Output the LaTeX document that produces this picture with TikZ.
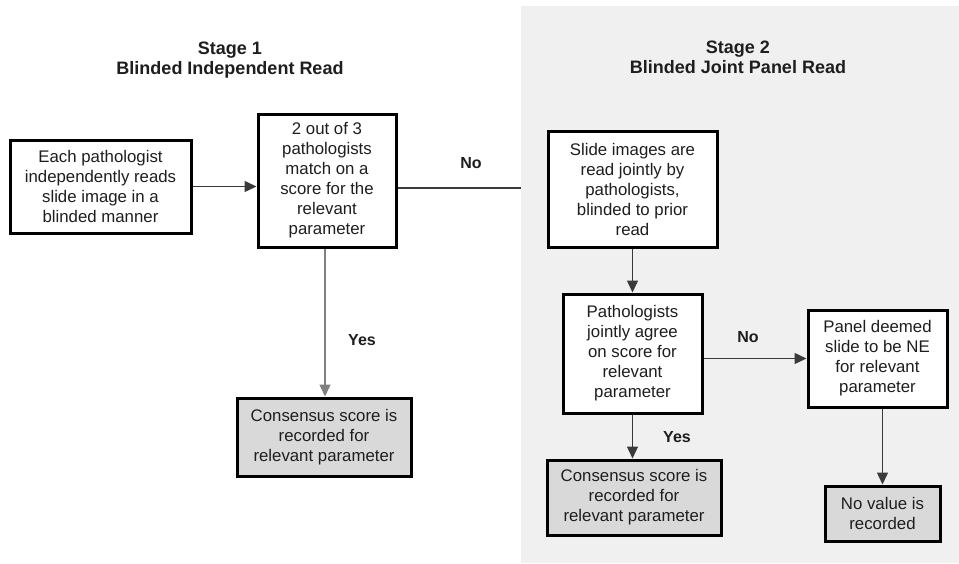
\documentclass[tikz,border=0pt]{standalone}
\usepackage{fontspec}
\setmainfont{Liberation Sans}
\usetikzlibrary{arrows.meta,calc}
\definecolor{panelgray}{HTML}{F0F0F0}
\definecolor{boxgray}{HTML}{D9D9D9}
\definecolor{txt}{HTML}{1E1E1E}
\definecolor{linec}{HTML}{3A3A3A}
\begin{document}
\begin{tikzpicture}[x=1pt,y=-1pt,
  flowbox/.style={draw=black, line width=3pt, fill=white, align=center, inner sep=2pt,
     text=txt, font=\fontsize{16.8}{20}\selectfont},
  endbox/.style={flowbox, fill=boxgray},
  title/.style={align=center, text=txt, font=\fontsize{18}{20}\selectfont\bfseries},
  lab/.style={text=txt, font=\fontsize{16}{18}\selectfont\bfseries},
  conn/.style={draw=linec, line width=1.4pt},
  arr/.style={conn, -{Triangle[length=12pt,width=11pt]}}
]
\useasboundingbox (0,0) rectangle (959,563);
\fill[white] (0,0) rectangle (959,563);
\fill[panelgray] (521,6) rectangle (959,563);

\node[title] (t1) at (230,60) {Stage 1\\Blinded Independent Read};
\node[title] (t2) at (738,57) {Stage 2\\Blinded Joint Panel Read};

\node[flowbox, minimum width=181pt, minimum height=93pt] (A) at (100.5,186.5)
  {Each pathologist\\independently reads\\slide image in a\\blinded manner};
\node[flowbox, minimum width=138pt, minimum height=133pt] (B) at (327,180.5)
  {2 out of 3\\pathologists\\match on a\\score for the\\relevant\\parameter};
\node[flowbox, minimum width=169pt, minimum height=116pt] (C) at (632.5,189)
  {Slide images are\\read jointly by\\pathologists,\\blinded to prior\\read};
\node[endbox, minimum width=174pt, minimum height=78pt] (D) at (324,437)
  {Consensus score is\\recorded for\\relevant parameter};
\node[flowbox, minimum width=139pt, minimum height=119pt] (E) at (632.5,353.5)
  {Pathologists\\jointly agree\\on score for\\relevant\\parameter};
\node[flowbox, minimum width=139pt, minimum height=97pt] (F) at (877.5,358.5)
  {Panel deemed\\slide to be NE\\for relevant\\parameter};
\node[endbox, minimum width=174pt, minimum height=75pt] (G) at (634,497.5)
  {Consensus score is\\recorded for\\relevant parameter};
\node[endbox, minimum width=115pt, minimum height=55pt] (H) at (882.5,513.5)
  {No value is\\recorded};

\coordinate (noend) at (521,188);

\draw[arr] (A.east) -- (A.east -| B.west);
\draw[conn] (noend -| B.east) -- (noend);
\draw[arr, draw=gray] ($(B.south)+(-2,0)$) -- ($(B.south |- D.north)+(-2,0)$);
\draw[arr] (C.south) -- (C.south |- E.north);
\draw[arr] (E.east |- F.west) -- (F.west);
\draw[arr] (E.south) -- (E.south |- G.north);
\draw[arr] (H.north |- F.south) -- (H.north);

\node[lab] (l1) at (471,163) {No};
\node[lab] (l2) at (362,340) {Yes};
\node[lab] (l3) at (748,337) {No};
\node[lab] (l4) at (677,437) {Yes};
\end{tikzpicture}
\end{document}
